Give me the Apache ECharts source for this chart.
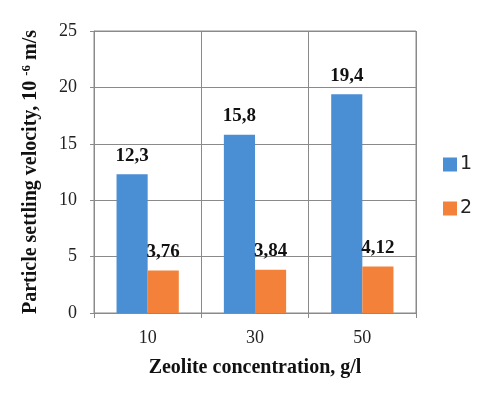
<!DOCTYPE html>
<html>
<head>
<meta charset="utf-8">
<script src="https://cdn.jsdelivr.net/npm/echarts@6/dist/echarts.min.js"></script>
<style>
  html, body { margin: 0; padding: 0; background: #fff; }
  #chart { width: 478px; height: 393px; }
</style>
</head>
<body>
<div id="chart"></div>
<script>
const categories = ["10", "30", "50"];
const series1 = [12.3, 15.8, 19.4];
const series2 = [3.76, 3.84, 4.12];
const seriesNames = ["1", "2"];

const chart = echarts.init(document.getElementById("chart"));
const serif = "Liberation Serif";
const labelStyle = {
  show: true,
  position: "top",
  distance: 9,
  fontFamily: serif,
  fontWeight: "bold",
  fontSize: 19,
  color: "#111",
  formatter: (p) => String(p.value).replace(".", ","),
};

const option = {
  animation: false,
  grid: {
    left: 94,
    right: 62,
    top: 31,
    bottom: 80,
    show: true,
    borderColor: "#8a8a8a",
    borderWidth: 1,
  },
  legend: {
    orient: "vertical",
    left: 443,
    top: 155,
    padding: 0,
    itemWidth: 14,
    itemHeight: 14,
    itemGap: 25,
    icon: "rect",
    data: seriesNames,
    textStyle: { fontFamily: "DejaVu Sans", fontSize: 19, color: "#222", padding: [0, 0, 0, -2] },
  },
  xAxis: {
    type: "category",
    data: categories,
    axisLine: { show: true, lineStyle: { color: "#8a8a8a" } },
    axisTick: { show: true, length: 5, lineStyle: { color: "#8a8a8a" } },
    splitLine: { show: true, lineStyle: { color: "#8a8a8a" } },
    axisLabel: { fontFamily: serif, fontSize: 18, color: "#222", margin: 16 },
    name: "Zeolite concentration, g/l",
    nameLocation: "middle",
    nameGap: 45,
    nameTextStyle: { fontFamily: serif, fontWeight: "bold", fontSize: 20, color: "#111" },
  },
  yAxis: {
    type: "value",
    min: 0,
    max: 25,
    interval: 5,
    axisLine: { show: true, lineStyle: { color: "#8a8a8a" } },
    axisTick: { show: true, length: 4, lineStyle: { color: "#8a8a8a" } },
    splitLine: { show: true, lineStyle: { color: "#8a8a8a" } },
    axisLabel: { fontFamily: serif, fontSize: 18, color: "#222", margin: 17 },
    name: "{a|Particle settling velocity, 10 }{s|-6}{a| m/s}",
    nameLocation: "middle",
    nameGap: 52,
    nameTextStyle: {
      rich: {
        a: { fontFamily: serif, fontWeight: "bold", fontSize: 20, color: "#111" },
        s: { fontFamily: serif, fontWeight: "bold", fontSize: 13, color: "#111", verticalAlign: "top", padding: [0, 0, 9, 0] },
      },
    },
  },
  series: [
    {
      name: seriesNames[0],
      type: "bar",
      data: series1,
      barGap: "0%",
      barCategoryGap: "42%",
      itemStyle: { color: "#4A8FD4" },
      label: labelStyle,
    },
    {
      name: seriesNames[1],
      type: "bar",
      data: series2,
      itemStyle: { color: "#F4813A" },
      label: labelStyle,
    },
  ],
};
chart.setOption(option);
</script>
</body>
</html>
